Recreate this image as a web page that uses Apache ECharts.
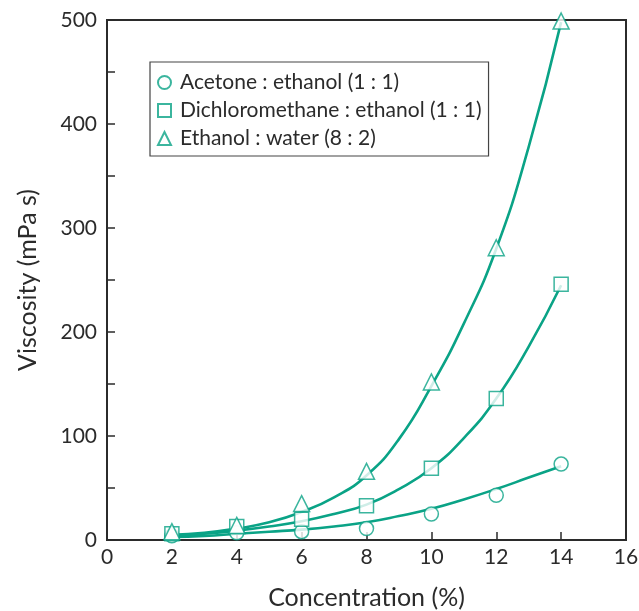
<!DOCTYPE html>
<html>
<head>
<meta charset="utf-8">
<script src="https://cdn.jsdelivr.net/npm/echarts@6/dist/echarts.min.js"></script>
<style>
  html, body { margin: 0; padding: 0; background: #fff; }
  #chart { width: 639px; height: 611px; }
</style>
</head>
<body>
<div id="chart"></div>
<script>
// Measured viscosity (mPa s) against polymer concentration (%)
const seriesNames = [
  'Acetone : ethanol (1 : 1)',
  'Dichloromethane : ethanol (1 : 1)',
  'Ethanol : water (8 : 2)'
];
const concentration = [2, 4, 6, 8, 10, 12, 14];
const acetoneEthanol = [4, 7, 8, 11, 25, 43, 73];
const dcmEthanol = [6, 13, 20, 33, 69, 136, 246];
const ethanolWater = [8, 14, 35, 66, 152, 281, 499];

// Fitted trend curves
const fitX = [2, 3, 4, 5, 6, 7, 8, 9, 10, 11, 12, 13, 14];
const fitAcetone = [3, 4, 6, 8, 10, 13, 17, 23, 30, 39, 49, 60, 71];
const fitDcm = [4, 6, 9, 13, 18, 25, 34, 49, 69, 98, 136, 186, 245];
const fitWater = [5, 7, 11, 17, 27, 41, 62, 97, 148, 208, 280, 378, 498];

const xTicks = [0, 16, 2];
const yTicks = [0, 500, 50];

const teal = '#0aa386';
const ink = '#2b2b2b';
const font = 'Lato';

function pairs(xs, ys) { return xs.map((x, i) => [x, ys[i]]); }

function curve(name, ys) {
  return {
    name: name + ' fit',
    type: 'line',
    data: pairs(fitX, ys),
    smooth: 0.5,
    showSymbol: false,
    symbol: 'none',
    lineStyle: { color: teal, width: 2.6 },
    z: 2,
    silent: true
  };
}

function markers(name, ys, symbol, size) {
  return {
    name: name,
    type: 'scatter',
    data: pairs(concentration, ys),
    symbol: symbol,
    symbolSize: size,
    itemStyle: { color: '#fff', borderColor: teal, borderWidth: 1.5 },
    z: 3
  };
}

const chart = echarts.init(document.getElementById('chart'));
chart.setOption({
  animation: false,
  backgroundColor: '#fff',
  grid: {
    left: 107, right: 13, top: 20, bottom: 71,
    outerBoundsMode: 'none',
    containLabel: false,
    show: true, borderColor: ink, borderWidth: 2, backgroundColor: 'transparent'
  },
  legend: {
    data: seriesNames,
    orient: 'vertical',
    left: 150, top: 62,
    padding: [10, 7, 7, 7],
    itemGap: 7,
    itemWidth: 13, itemHeight: 13,
    borderColor: '#444', borderWidth: 1.2,
    textStyle: { fontFamily: font, fontSize: 21, lineHeight: 20, color: ink, padding: [0, 0, 0, 4] }
  },
  xAxis: {
    type: 'value',
    min: xTicks[0], max: xTicks[1], interval: xTicks[2],
    name: 'Concentration (%)',
    nameLocation: 'middle',
    nameGap: 45,
    nameTextStyle: { fontFamily: font, fontSize: 25, color: ink },
    axisLine: { show: true, lineStyle: { color: ink, width: 2 } },
    axisTick: { show: true, inside: true, length: 8, lineStyle: { color: ink, width: 1.5 } },
    axisLabel: { fontFamily: font, fontSize: 21, color: ink, margin: 7 },
    splitLine: { show: false }
  },
  yAxis: {
    type: 'value',
    min: yTicks[0], max: yTicks[1], interval: yTicks[2],
    name: 'Viscosity (mPa s)',
    nameLocation: 'middle',
    nameGap: 67,
    nameTextStyle: { fontFamily: font, fontSize: 25, color: ink },
    axisLine: { show: true, lineStyle: { color: ink, width: 2 } },
    axisTick: { show: true, inside: true, length: 8, lineStyle: { color: ink, width: 1.5 } },
    axisLabel: {
      fontFamily: font, fontSize: 21, color: ink, margin: 10,
      formatter: v => (v % 100 === 0 ? String(v) : '')
    },
    splitLine: { show: false }
  },
  series: [
    curve(seriesNames[0], fitAcetone),
    curve(seriesNames[1], fitDcm),
    curve(seriesNames[2], fitWater),
    markers(seriesNames[0], acetoneEthanol, 'circle', 14),
    markers(seriesNames[1], dcmEthanol, 'rect', 14),
    markers(seriesNames[2], ethanolWater, 'triangle', 16)
  ]
});
</script>
</body>
</html>
